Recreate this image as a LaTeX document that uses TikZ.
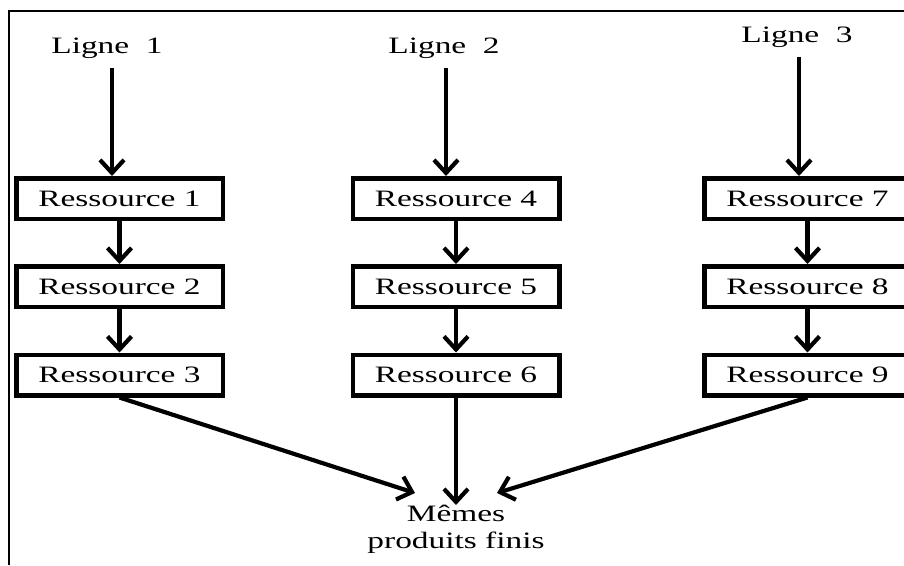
\documentclass[tikz,border=0pt]{standalone}
\usepackage{fontspec}
\usetikzlibrary{arrows.meta}
\newfontfamily\diagfont[FakeStretch=1.42]{Liberation Serif}
\begin{document}
\begin{tikzpicture}[x=1pt,y=-1pt,
  every node/.style={font=\diagfont\fontsize{23.5}{27}\selectfont},
  resbox/.style={draw,line width=4.5pt,minimum width=206.5pt,minimum height=40.5pt,inner sep=0pt},
  label/.style={inner sep=0pt,anchor=base},
  arr/.style={line width=4.2pt,-{Straight Barb[length=13pt,width=24pt,line width=4.2pt]}}]
\useasboundingbox (0,0) rectangle (904,565);
% frame edges
\draw[line width=2pt] (9,565) -- (9,11) -- (904,11);

% line headings
\node[label] (l1) at (107,53) {Ligne~~1};
\node[label] (l2) at (444,53) {Ligne~~2};
\node[label] (l3) at (797,42) {Ligne~~3};

% resources
\foreach \c/\x in {0/119.5,1/456,2/807.5}{
  \foreach \r/\y in {1/198.5,2/286.5,3/375}{
    \pgfmathtruncatemacro{\n}{3*\c+\r}
    \node[resbox] (r\n) at (\x,\y) {Ressource \n};
  }
}

% final products
\node[inner sep=0pt,anchor=north,align=center] (fin) at (456,505) {Mêmes\\produits finis};

% entry points of the lines
\coordinate (t1) at (112,68);
\coordinate (t2) at (446,68);
\coordinate (t3) at (799,57);
\draw[arr] (t1) -- (t1 |- r1.north);
\draw[arr] (t2) -- (t2 |- r4.north);
\draw[arr] (t3) -- (t3 |- r7.north);

% flow inside each line
\draw[arr] (r1) -- (r2);
\draw[arr] (r2) -- (r3);
\draw[arr] (r4) -- (r5);
\draw[arr] (r5) -- (r6);
\draw[arr] (r7) -- (r8);
\draw[arr] (r8) -- (r9);

% merging into the final products
\coordinate (inL) at (415,493);
\coordinate (inR) at (497,493);
\draw[arr] (r3.south) -- (inL);
\draw[arr] (r6.south) -- (fin.north);
\draw[arr] (r9.south) -- (inR);
\end{tikzpicture}
\end{document}
